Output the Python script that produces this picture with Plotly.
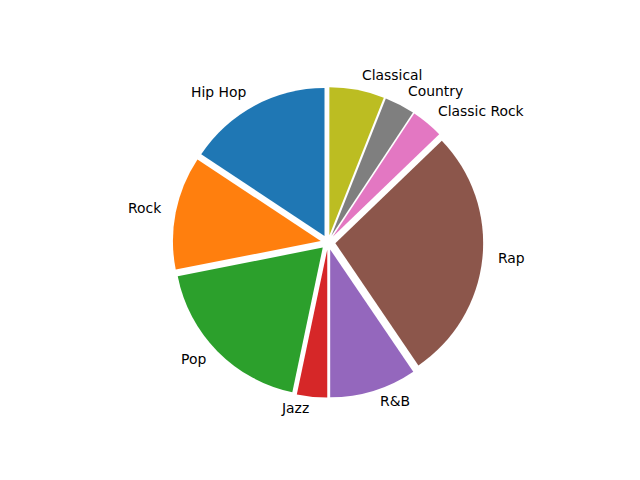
import math
import plotly.graph_objects as go

genres = ["Hip Hop", "Rock", "Pop", "Jazz", "R&B", "Rap", "Classic Rock", "Country", "Classical"]
shares = [15.7, 12.4, 18.6, 3.3, 9.5, 27.7, 3.5, 3.3, 6.0]
colors = ["#1f77b4", "#ff7f0e", "#2ca02c", "#d62728", "#9467bd",
          "#8c564b", "#e377c2", "#7f7f7f", "#bcbd22"]
explode = [0.05] * len(genres)

W, H = 640, 480
# page adds an 8px body margin, so the figure origin sits at (8, 8)
cx, cy = 328.0 - 8, 242.4 - 8   # pie centre in figure pixels
r = 147.8                       # pie radius in pixels
box = r * (2 + 2 * max(explode))
text_dy = -2                    # vertical centring tweak for labels

total = sum(shares)
rot = -360 * shares[0] / total

fig = go.Figure(go.Pie(
    labels=genres,
    values=shares,
    sort=False,
    direction="counterclockwise",
    rotation=rot,
    pull=explode,
    marker=dict(colors=colors, line=dict(width=0)),
    textinfo="none",
    hoverinfo="label+percent",
    showlegend=False,
    domain=dict(x=[(cx - box / 2) / W, (cx + box / 2) / W],
                y=[(H - cy - box / 2) / H, (H - cy + box / 2) / H]),
))

cum = 0.0
for g, v, e in zip(genres, shares, explode):
    theta = math.radians(90 + 360 * (cum + v / 2) / total)
    cum += v
    d = (e + 1.09) * r
    xt = cx + d * math.cos(theta)
    yt = cy - d * math.sin(theta) + text_dy
    fig.add_annotation(
        x=xt / W, y=1 - yt / H, xref="paper", yref="paper",
        text=g, showarrow=False,
        xanchor="left" if math.cos(theta) > 0 else "right",
        yanchor="middle",
        font=dict(family="DejaVu Sans", size=13.9, color="black"),
    )

fig.update_layout(
    width=W, height=H,
    margin=dict(l=0, r=0, t=0, b=0),
    paper_bgcolor="white",
    plot_bgcolor="white",
)
fig.write_html("out.html")
